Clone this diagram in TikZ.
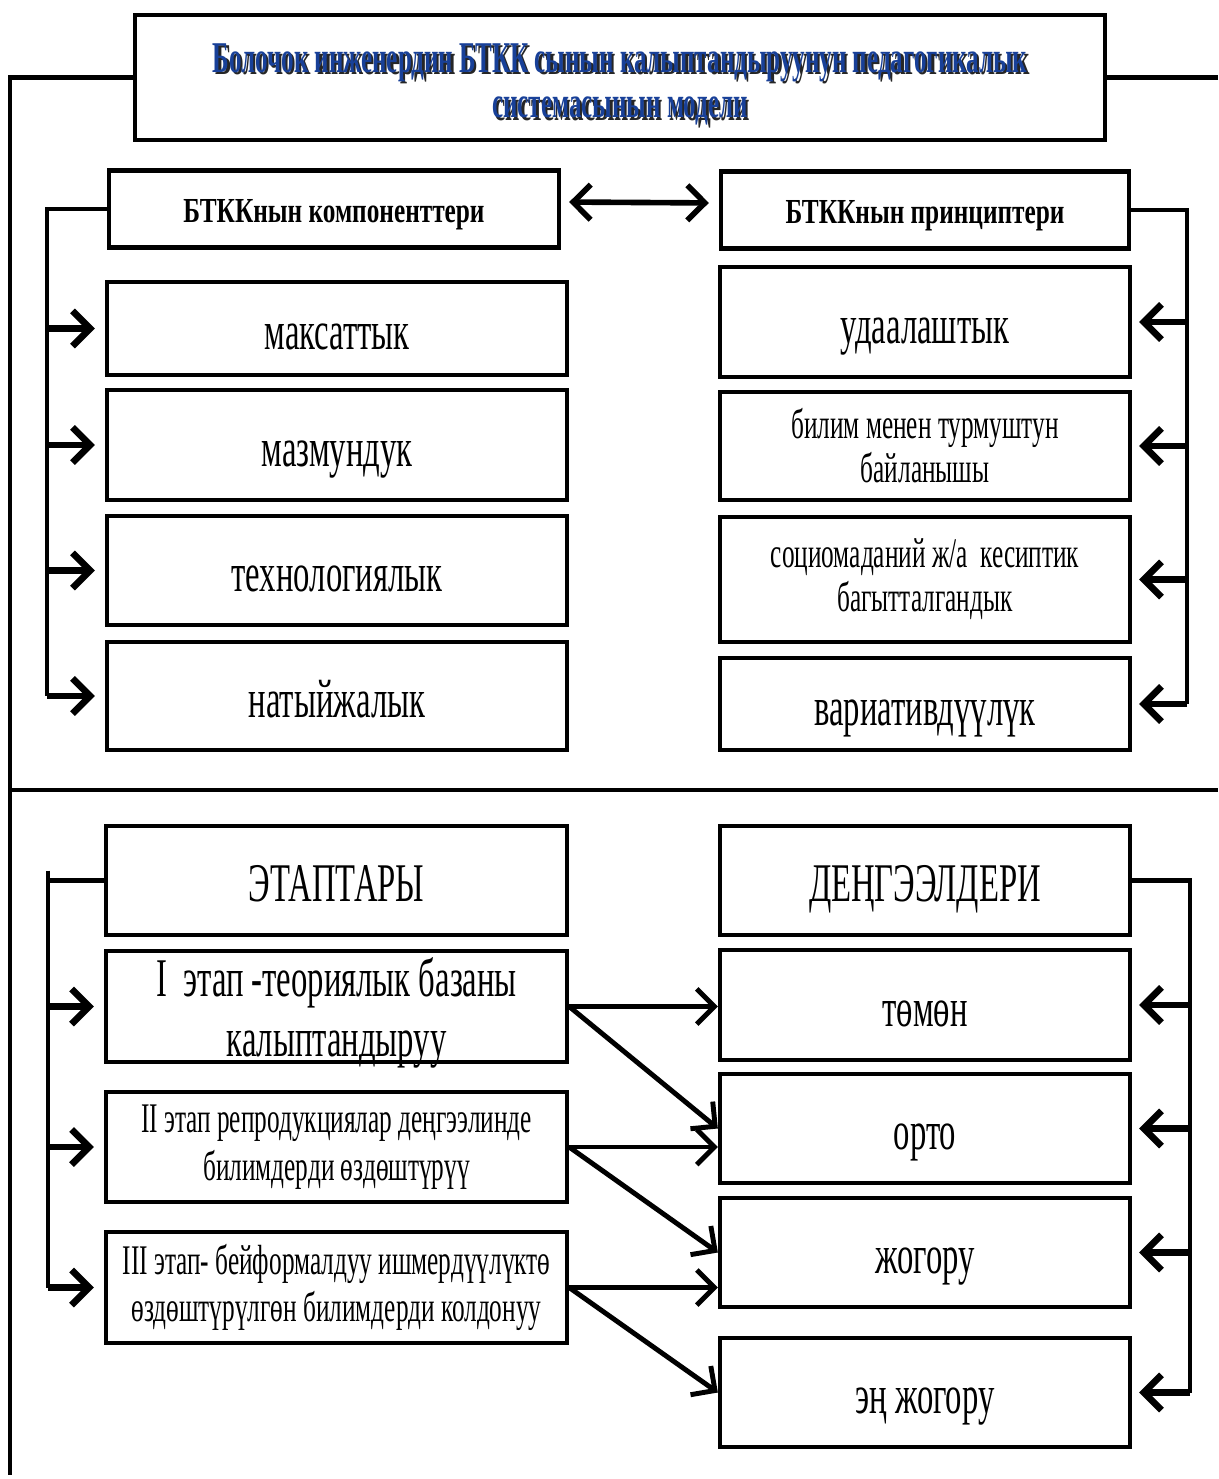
\documentclass[tikz,border=0pt]{standalone}
\usepackage{fontspec}
\setmainfont{Liberation Serif}[FakeStretch=0.6]
\newfontfamily\headfont{Liberation Serif}[FakeStretch=0.72]
\newfontfamily\titlefont{Liberation Serif}[FakeStretch=0.57]
\usetikzlibrary{positioning, arrows.meta}
\definecolor{titleblue}{RGB}{24,64,152}
% blue title line with a dark shadow under it
\newcommand{\shadowline}[1]{\makebox[0pt][l]{\hspace{1.4pt}\raisebox{-1.4pt}{\textcolor{black!85}{#1}}}\textcolor{titleblue}{#1}}

\tikzset{
  box/.style={draw, rectangle, line width=2.5pt, align=center, inner sep=2pt},
  titlebox/.style={box, minimum width=19.4cm, minimum height=2.5cm,
    font={\titlefont\bfseries\fontsize{25}{26}\selectfont}},
  headbox/.style={box, minimum height=1.54cm, text height=15pt, text depth=0pt,
    font={\headfont\bfseries\fontsize{20}{23}\selectfont}},
  bigtext/.style={font={\fontsize{31}{34}\selectfont}, text height=25pt, text depth=1pt},
  twolines/.style={font={\fontsize{31}{34}\selectfont}},
  smalltext/.style={font={\fontsize{24}{25}\selectfont}},
  stagetext/.style={font={\fontsize{24}{27}\selectfont}},
  spine/.style={line width=2.8pt},
  arr/.style={->, line width=3.8pt},
  cross/.style={->, line width=2.8pt},
  frame/.style={line width=2.4pt}
}

\begin{document}
\begin{tikzpicture}[x=0.02cm, y=-0.02cm, >={Straight Barb[length=10pt,width=20pt]}]
  \useasboundingbox (0,0) rectangle (1218,1479);

  %%% TITLE %%%
  \node[titlebox] (title) at (620,77.5)
    {\raisebox{-11pt}[0pt][0pt]{\begin{tabular}{@{}c@{}}
      \shadowline{Болочок инженердин БТКК сынын калыптандыруунун педагогикалык}\\
      \shadowline{системасынын модели}\end{tabular}}};

  %%% UPPER PART %%%
  % headers
  \node[headbox, minimum width=9cm]    (hc) at (334,209) {БТККнын компоненттери};
  \node[headbox, minimum width=8.16cm] (hp) at (925,210) {БТККнын принциптери};

  % components
  \node[box, bigtext, minimum width=9.2cm, minimum height=1.86cm] (c1) at (337,328.5) {максаттык};
  \node[box, bigtext, minimum width=9.2cm, minimum height=2.2cm]  (c2) at (337,445)   {мазмундук};
  \node[box, bigtext, minimum width=9.2cm, minimum height=2.18cm] (c3) at (337,570.5) {технологиялык};
  \node[box, bigtext, minimum width=9.2cm, minimum height=2.16cm] (c4) at (337,696)   {натыйжалык};

  % principles
  \node[box, bigtext,   minimum width=8.2cm, minimum height=2.2cm]  (p1) at (925,322)   {удаалаштык};
  \node[box, smalltext, minimum width=8.2cm, minimum height=2.16cm] (p2) at (925,446)   {билим менен турмуштун\\ байланышы};
  \node[box, smalltext, minimum width=8.2cm, minimum height=2.5cm]  (p3) at (925,579.5) {социомаданий ж/а\ \ кесиптик\\ багытталгандык};
  \node[box, bigtext,   minimum width=8.2cm, minimum height=1.84cm] (p4) at (925,704)   {вариативдүүлүк};

  %%% LOWER PART %%%
  % headers
  \node[box, bigtext, minimum width=9.22cm, minimum height=2.18cm] (st) at (336.5,880.5) {ЭТАПТАРЫ};
  \node[box, bigtext, minimum width=8.2cm,  minimum height=2.18cm] (lv) at (925,880.5)   {ДЕҢГЭЭЛДЕРИ};

  % stages
  \node[box, twolines, minimum width=9.22cm, minimum height=2.22cm] (st1) at (336.5,1006.5)
    {\raisebox{-11pt}[0pt][0pt]{\begin{tabular}{@{}c@{}}I\ \ этап -теориялык базаны\\ калыптандыруу\end{tabular}}};
  \node[box, stagetext, minimum width=9.22cm, minimum height=2.2cm]  (st2) at (336.5,1147)
    {II этап репродукциялар деңгээлинде\\ билимдерди өздөштүрүү};
  \node[box, stagetext, minimum width=9.22cm, minimum height=2.22cm] (st3) at (336.5,1287.5)
    {III этап- бейформалдуу ишмердүүлүктө\\ өздөштүрүлгөн билимдерди колдонуу};

  % levels
  \node[box, bigtext, minimum width=8.2cm, minimum height=2.2cm]  (lv1) at (925,1005)   {төмөн};
  \node[box, bigtext, minimum width=8.2cm, minimum height=2.18cm] (lv2) at (925,1128.5) {орто};
  \node[box, bigtext, minimum width=8.2cm, minimum height=2.18cm] (lv3) at (925,1252.5) {жогору};
  \node[box, bigtext, minimum width=8.2cm, minimum height=2.18cm] (lv4) at (925,1392.5) {эң жогору};

  %%% FRAME %%%
  \coordinate (fl) at (10,790);
  \coordinate (fr) at (1218,790);
  \draw[frame] (title.west) -- (10,77.5) -- (10,1475);
  \draw[frame] (title.east) -- (1218,77.5);
  \draw[frame] (fl) -- (fr);

  %%% CONNECTORS %%%
  \coordinate (lspine) at (47,0);
  \coordinate (rspine) at (1187,0);
  \coordinate (lspine2) at (48,0);
  \coordinate (rspine2) at (1190,0);

  % upper part
  \draw[arr, <->, line width=3.2pt, shorten <=0.16cm, shorten >=0.2cm] ([yshift=0.14cm]hc.east) -- ([yshift=0.14cm]hp.west);
  \draw[spine] (hc.west) -| (lspine |- c4.west);
  \foreach \b in {c1,c2,c3,c4}
    \draw[arr, shorten >=0.2cm] (lspine |- \b.west) -- (\b.west);
  \draw[spine] (hp.east) -| (rspine |- p4.east);
  \foreach \b in {p1,p2,p3,p4}
    \draw[arr, shorten >=0.14cm] (rspine |- \b.east) -- (\b.east);

  % lower part
  \draw[spine] (st.west) -- (lspine2 |- st.west);
  \draw[spine] ([yshift=0.2cm]lspine2 |- st.west) -- (lspine2 |- st3.west);
  \foreach \b in {st1,st2,st3}
    \draw[arr, shorten >=0.2cm] (lspine2 |- \b.west) -- (\b.west);
  \draw[spine] (lv.east) -| (rspine2 |- lv4.east);
  \foreach \b in {lv1,lv2,lv3,lv4}
    \draw[arr, shorten >=0.14cm] (rspine2 |- \b.east) -- (\b.east);

  % stages to levels
  \draw[cross] (st1.east) -- (st1.east -| lv1.west);
  \draw[cross] (st1.east) -- (lv2.west);
  \draw[cross] (st2.east) -- (st2.east -| lv2.west);
  \draw[cross] (st2.east) -- (lv3.west);
  \draw[cross] (st3.east) -- (st3.east -| lv3.west);
  \draw[cross] (st3.east) -- (lv4.west);
\end{tikzpicture}
\end{document}
